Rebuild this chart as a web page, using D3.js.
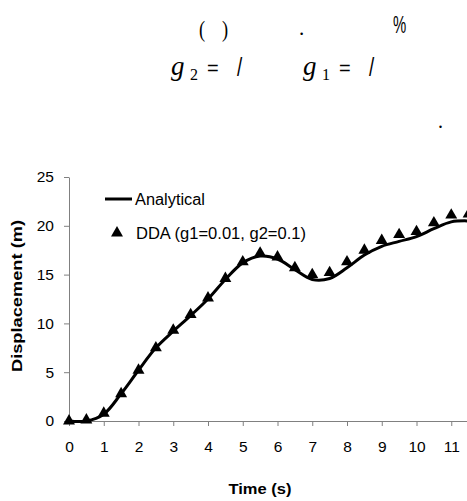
<!DOCTYPE html>
<html>
<head>
<meta charset="utf-8">
<script src="https://cdn.jsdelivr.net/npm/d3@7.9.0/dist/d3.min.js"></script>
<style>
  html, body { margin: 0; padding: 0; background: #fff; overflow: hidden; }
  svg { display: block; }
</style>
</head>
<body>
<svg id="chart" width="467" height="501"></svg>
<script>
// time steps (s)
const times = [0, 0.5, 1, 1.5, 2, 2.5, 3, 3.5, 4, 4.5, 5, 5.5, 6, 6.5, 7, 7.5, 8, 8.5, 9, 9.5, 10, 10.5, 11, 11.5];
// analytical displacement (m)
const analytical = [0, 0, 0.7, 2.8, 5.2, 7.5, 9.2, 10.8, 12.5, 14.5, 16.2, 16.9, 16.6, 15.5, 14.5, 14.6, 15.7, 17.0, 17.9, 18.4, 18.9, 19.7, 20.4, 20.5];
// DDA displacement (m)
const dda = [0, 0.1, 0.8, 2.8, 5.2, 7.5, 9.3, 10.9, 12.6, 14.6, 16.3, 17.2, 16.8, 15.7, 15.0, 15.2, 16.3, 17.5, 18.5, 19.1, 19.4, 20.3, 21.1, 21.2];
const xTicks = d3.range(0, 12, 1);
const yTicks = [0, 5, 10, 15, 20, 25];

const svg = d3.select('#chart');

const x = d3.scaleLinear().domain([0, 12]).range([69, 486]);
const y = d3.scaleLinear().domain([0, 25]).range([421, 177]);

// stray text fragments above the chart
const serif = 'Liberation Serif, Times New Roman, serif';
const sans = 'Liberation Sans, Arial, sans-serif';
const frag = svg.append('g').attr('fill', '#000').attr('font-family', serif);
frag.append('text').attr('transform', 'translate(199,37) scale(0.8,1)').attr('font-size', 23).text('(');
frag.append('text').attr('transform', 'translate(222,37) scale(0.8,1)').attr('font-size', 23).text(')');
frag.append('text').attr('x', 299).attr('y', 35).attr('font-size', 21).text('.');
frag.append('text').attr('transform', 'translate(393,33) scale(0.62,1)')
  .attr('font-size', 24).attr('font-family', sans).text('%');

function gEq(x0, sub) {
  frag.append('text').attr('x', x0).attr('y', 75).attr('font-size', 27).attr('font-style', 'italic').text('g');
  frag.append('text').attr('x', x0 + 19).attr('y', 80).attr('font-size', 16).text(sub);
  frag.append('text').attr('x', x0 + 36).attr('y', 75).attr('font-size', 20)
    .attr('font-family', sans).text('=');
  frag.append('text').attr('transform', `translate(${x0 + 66},76) scale(0.75,1)`).attr('font-size', 25)
    .attr('font-family', sans).text('/');
}
gEq(171, '2');
gEq(303, '1');
frag.append('text').attr('x', 438).attr('y', 128).attr('font-size', 20).text('.');

// axes
const xAxis = svg.append('g')
  .attr('transform', `translate(0,${y(0)})`)
  .call(d3.axisBottom(x).tickValues(xTicks).tickSize(5).tickSizeOuter(0).tickPadding(15));
const yAxis = svg.append('g')
  .attr('transform', `translate(${x(0)},0)`)
  .call(d3.axisLeft(y).tickValues(yTicks).tickSize(5).tickSizeOuter(0).tickPadding(10));

[xAxis, yAxis].forEach(a => {
  a.select('.domain').attr('stroke', '#808080').attr('stroke-width', 1);
  a.selectAll('.tick line').attr('stroke', '#808080');
  a.selectAll('.tick text').attr('fill', '#000').attr('font-family', sans).attr('font-size', 15.5);
});

// axis titles
svg.append('text')
  .attr('x', 260).attr('y', 494)
  .attr('text-anchor', 'middle')
  .attr('font-family', sans).attr('font-size', 15).attr('font-weight', 'bold')
  .attr('textLength', 63).attr('lengthAdjust', 'spacingAndGlyphs')
  .text('Time (s)');
svg.append('text')
  .attr('transform', `translate(22,296) rotate(-90)`)
  .attr('text-anchor', 'middle')
  .attr('font-family', sans).attr('font-size', 15).attr('font-weight', 'bold')
  .attr('textLength', 152).attr('lengthAdjust', 'spacingAndGlyphs')
  .text('Displacement (m)');

// analytical line
const line = d3.line()
  .x((d, i) => x(times[i]))
  .y(d => y(d))
  .curve(d3.curveCatmullRom.alpha(0.5));

svg.append('path')
  .datum(analytical)
  .attr('d', line)
  .attr('fill', 'none')
  .attr('stroke', '#000')
  .attr('stroke-width', 3)
  .attr('stroke-linejoin', 'round');

// DDA triangles
const tri = d3.symbol().type(d3.symbolTriangle).size(62);
svg.append('g').selectAll('path')
  .data(dda)
  .join('path')
  .attr('d', tri)
  .attr('transform', (d, i) => `translate(${x(times[i])},${y(d)})`)
  .attr('fill', '#000');

// legend
const legend = svg.append('g').attr('font-family', sans).attr('font-size', 16).attr('fill', '#000');
legend.append('line')
  .attr('x1', 105).attr('x2', 132).attr('y1', 199).attr('y2', 199)
  .attr('stroke', '#000').attr('stroke-width', 3);
legend.append('text').attr('x', 135).attr('y', 204.5)
  .attr('textLength', 70).attr('lengthAdjust', 'spacingAndGlyphs').text('Analytical');
legend.append('path')
  .attr('d', tri)
  .attr('transform', 'translate(117,233)')
  .attr('fill', '#000');
legend.append('text').attr('x', 136).attr('y', 238.5)
  .attr('textLength', 170).attr('lengthAdjust', 'spacingAndGlyphs').text('DDA (g1=0.01, g2=0.1)');
</script>
</body>
</html>
